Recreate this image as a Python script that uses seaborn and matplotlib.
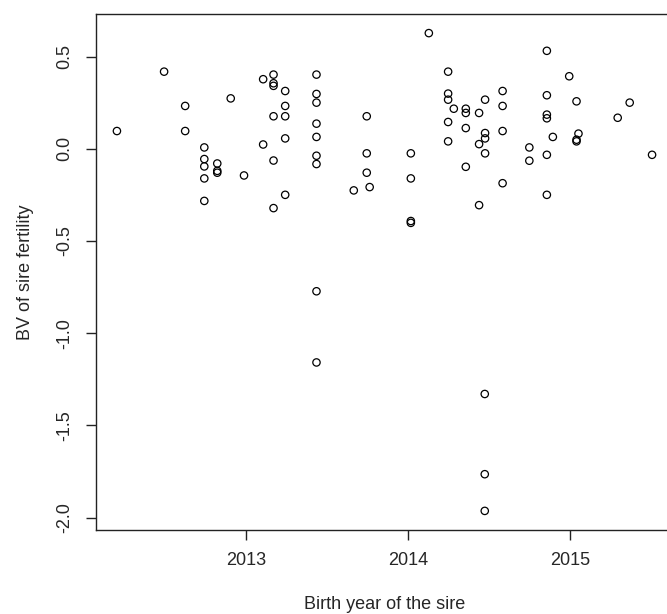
import numpy as np
import pandas as pd
import seaborn as sns
import matplotlib
matplotlib.use('Agg')
import matplotlib.pyplot as plt

# birth year of the sire (decimal) and breeding value of sire fertility
birth_year = [
    2012.204, 2012.495, 2012.625, 2012.625,
    2012.743, 2012.743, 2012.743, 2012.743, 2012.743,
    2012.823, 2012.823, 2012.823, 2012.906, 2012.988,
    2013.106, 2013.106,
    2013.170, 2013.170, 2013.170, 2013.170, 2013.170, 2013.170,
    2013.242, 2013.242, 2013.242, 2013.242, 2013.242,
    2013.435, 2013.435, 2013.435, 2013.435, 2013.435, 2013.435, 2013.435,
    2013.435, 2013.435,
    2013.665, 2013.745, 2013.745, 2013.745, 2013.763,
    2014.017, 2014.017, 2014.017, 2014.017,
    2014.128,
    2014.247, 2014.247, 2014.247, 2014.247, 2014.247,
    2014.282, 2014.356, 2014.356, 2014.356, 2014.356,
    2014.438, 2014.438, 2014.438,
    2014.475, 2014.475, 2014.475, 2014.475,
    2014.473, 2014.473, 2014.473,
    2014.583, 2014.583, 2014.583, 2014.583,
    2014.748, 2014.748,
    2014.856, 2014.856, 2014.856, 2014.856, 2014.856, 2014.856,
    2014.893, 2014.994, 2015.039, 2015.051, 2015.039, 2015.039,
    2015.293, 2015.367, 2015.505,
]
bv_fertility = [
    0.096, 0.418, 0.232, 0.096,
    0.007, -0.056, -0.096, -0.161, -0.283,
    -0.080, -0.120, -0.130, 0.273, -0.145,
    0.377, 0.023,
    0.402, 0.355, 0.341, 0.176, -0.064, -0.322,
    0.313, 0.232, 0.176, 0.056, -0.250,
    0.402, 0.297, 0.250, 0.136, 0.064, -0.038, -0.083,
    -0.773, -1.159,
    -0.226, 0.176, -0.025, -0.130, -0.208,
    -0.025, -0.161, -0.392, -0.402,
    0.627,
    0.418, 0.299, 0.266, 0.145, 0.040,
    0.217, 0.217, 0.194, 0.112, -0.098,
    0.194, 0.025, -0.306,
    0.266, 0.085, 0.056, -0.025,
    -1.330, -1.765, -1.964,
    0.313, 0.232, 0.096, -0.187,
    0.007, -0.065,
    0.531, 0.290, 0.185, 0.165, -0.033, -0.250,
    0.064, 0.393, 0.257, 0.082, 0.049, 0.040,
    0.168, 0.250, -0.033,
]
x_ticks = [2013, 2014, 2015]
y_ticks = [0.5, 0.0, -0.5, -1.0, -1.5, -2.0]

df = pd.DataFrame({'year': birth_year, 'bv': bv_fertility})

sns.set_style('white')
plt.rcParams['font.family'] = ['Liberation Sans', 'DejaVu Sans']

fig = plt.figure(figsize=(6.67, 6.14), dpi=100)
ax = fig.add_axes([0.1432, 0.1368, 0.8665, 0.8404])

sns.scatterplot(data=df, x='year', y='bv', ax=ax, marker='o', s=28,
                facecolor='none', edgecolor='black', linewidth=0.9)

# R style padding (4% each side)
xr = max(birth_year) - min(birth_year)
yr = max(bv_fertility) - min(bv_fertility)
ax.set_xlim(min(birth_year) - 0.04 * xr, max(birth_year) + 0.04 * xr)
ax.set_ylim(min(bv_fertility) - 0.04 * yr, max(bv_fertility) + 0.04 * yr)

ax.set_xticks(x_ticks)
ax.set_xticklabels([str(t) for t in x_ticks])
ax.set_yticks(y_ticks)
ax.set_yticklabels([f'{t:.1f}' for t in y_ticks], rotation=90, va='center')

ax.tick_params(axis='both', direction='out', length=7, width=1, color='#222222',
               labelsize=13, pad=9, bottom=True, left=True)
for sp in ax.spines.values():
    sp.set_visible(True)
    sp.set_color('#222222')
    sp.set_linewidth(1)

ax.set_xlabel('Birth year of the sire', fontsize=13, labelpad=19)
ax.set_ylabel('BV of sire fertility', fontsize=13, labelpad=16)

fig.savefig('out.png', dpi=100)
